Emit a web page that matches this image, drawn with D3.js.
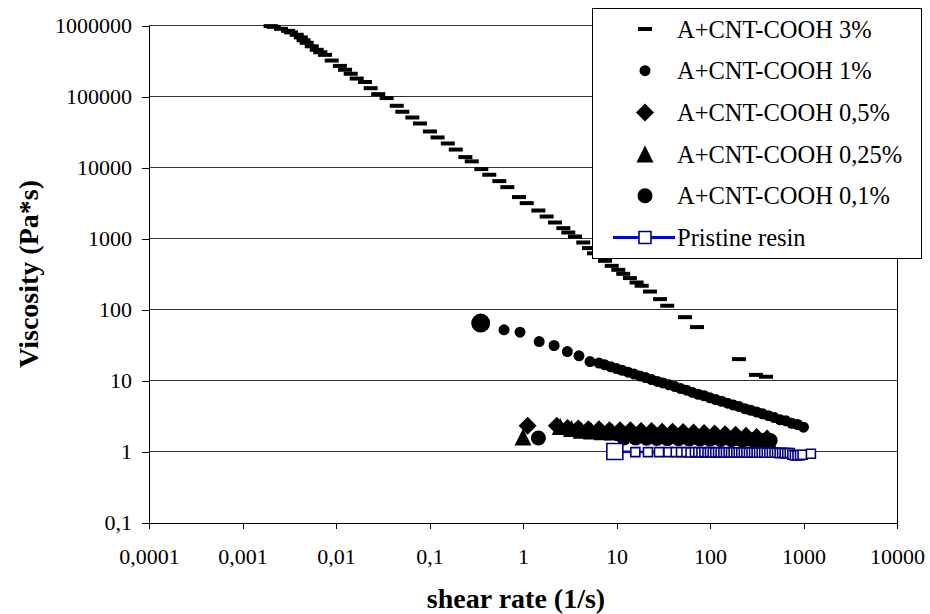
<!DOCTYPE html>
<html><head><meta charset="utf-8">
<script src="https://cdn.jsdelivr.net/npm/d3@7"></script>
<style>body{margin:0;background:#fff}svg{display:block}</style>
</head><body>
<svg id="c" width="930" height="614"></svg>
<script>
// ---------- data ----------
const xTickValues = [1e-4, 1e-3, 1e-2, 1e-1, 1, 10, 100, 1000, 10000];
const xTickLabels = ["0,0001", "0,001", "0,01", "0,1", "1", "10", "100", "1000", "10000"];
const yTickValues = [0.1, 1, 10, 100, 1000, 10000, 100000, 1000000];
const yTickLabels = ["0,1", "1", "10", "100", "1000", "10000", "100000", "1000000"];

const seriesNames = ["A+CNT-COOH 3%", "A+CNT-COOH 1%", "A+CNT-COOH 0,5%", "A+CNT-COOH 0,25%", "A+CNT-COOH 0,1%", "Pristine resin"];

const cnt3X = [0.002, 0.00217, 0.00258, 0.00307, 0.0033, 0.0038, 0.0042, 0.0045, 0.00486, 0.0055, 0.00622, 0.0068, 0.00762, 0.009, 0.011, 0.0125, 0.01436, 0.01665, 0.0204, 0.0235, 0.0283, 0.0348, 0.0446, 0.0512, 0.0655, 0.079, 0.101, 0.122, 0.157, 0.191, 0.242, 0.283, 0.358, 0.436, 0.558, 0.68, 0.906, 1.096, 1.46, 1.79, 2.2, 2.7, 3.05, 3.6, 4.41, 5.08, 5.74, 6.5, 7.53, 8.89, 10.45, 11.8, 13.9, 16.4, 18.6, 22.8, 29.2, 34.9, 54, 72.6, 204, 310, 397];
const cnt3Y = [980000, 957000, 898000, 841000, 800000, 740000, 680000, 620000, 570000, 510000, 455000, 420000, 386000, 321000, 270000, 238000, 209000, 179000, 160000, 131000, 108000, 95000, 74000, 61000, 50600, 41700, 32200, 26500, 21800, 17900, 14000, 12200, 9500, 7900, 6430, 5290, 3830, 3150, 2480, 2040, 1680, 1400, 1215, 1067, 879, 733, 619, 552, 485, 412, 362, 318, 277, 240, 216, 179, 140, 113, 78, 56.5, 20, 12.0, 11.3];

const cnt1X = [0.627, 0.929, 1.49, 2.15, 2.98, 3.97, 5.21, 6.5, 7.5, 8.7, 10, 11.5, 13.3, 15.4, 17.8, 20.5, 23.7, 27.4, 31.6, 36.5, 42.2, 48.7, 56.2, 64.9, 75, 86.6, 100, 115, 133, 154, 178, 205, 237, 274, 316, 365, 422, 487, 562, 649, 750, 866, 1000];
const cnt1Y = [51.8, 48, 35.4, 31.1, 25.6, 22.3, 18.5, 17.6, 16.6, 15.6, 14.7, 13.9, 13.1, 12.3, 11.6, 11.0, 10.3, 9.7, 9.2, 8.7, 8.2, 7.7, 7.3, 6.8, 6.4, 6.1, 5.7, 5.4, 5.1, 4.8, 4.5, 4.3, 4.0, 3.8, 3.6, 3.4, 3.2, 3.0, 2.8, 2.7, 2.5, 2.4, 2.2];

const cnt05X = [1.12, 2.3, 3.0, 3.9, 5.0, 6.5, 8.4, 10.9, 14.1, 18.3, 23.7, 30.7, 39.8, 51.5, 66.7, 86.4, 112, 145, 188, 243, 315, 408];
const cnt05Y = [2.3, 2.3, 2.15, 2.1, 2.05, 2.05, 2.0, 2.0, 2.0, 1.95, 1.95, 1.9, 1.9, 1.88, 1.85, 1.82, 1.8, 1.75, 1.72, 1.66, 1.6, 1.52];

const cnt025X = [1.0, 2.5, 3.3, 4.2, 5.4, 7.0, 9.0, 11.7, 15.1, 19.5, 25.2, 32.6, 42.1, 54.4, 70.4, 91, 118, 152, 197, 254, 329, 425];
const cnt025Y = [1.6, 2.25, 2.1, 2.0, 1.95, 1.9, 1.88, 1.85, 1.85, 1.82, 1.8, 1.8, 1.78, 1.76, 1.74, 1.7, 1.68, 1.64, 1.6, 1.55, 1.5, 1.42];

const cnt01X = [0.353, 1.46, 12, 16, 21, 27, 35, 46, 60, 78, 100, 130, 170, 220, 290, 380, 440];
const cnt01Y = [64.3, 1.55, 1.55, 1.55, 1.54, 1.53, 1.52, 1.52, 1.5, 1.5, 1.49, 1.48, 1.47, 1.46, 1.45, 1.44, 1.43];

const pristineX = [9.6, 15.9, 21.7, 28.5, 36, 43, 49, 56, 62, 69, 75, 81, 87, 94, 100, 107, 114, 122, 130, 139, 148, 158, 168, 179, 191, 203, 216, 230, 245, 261, 278, 296, 315, 335, 357, 380, 405, 431, 459, 489, 521, 555, 591, 629, 670, 713, 760, 809, 862, 918, 978, 1200];
const pristineY = [1.0, 0.98, 0.98, 0.98, 0.98, 0.98, 0.98, 0.98, 0.97, 0.98, 0.98, 0.97, 0.98, 0.97, 0.98, 0.97, 0.97, 0.98, 0.97, 0.97, 0.97, 0.98, 0.97, 0.97, 0.97, 0.97, 0.97, 0.97, 0.97, 0.96, 0.97, 0.97, 0.96, 0.97, 0.96, 0.97, 0.96, 0.96, 0.96, 0.96, 0.96, 0.95, 0.96, 0.95, 0.95, 0.95, 0.9, 0.88, 0.88, 0.89, 0.9, 0.93];

// ---------- chart ----------
const FONT = "'Liberation Serif','Times New Roman',Times,serif";
const svg = d3.select("#c");
const L = 149, R = 897, T = 25.5, B = 522.5;
const x = d3.scaleLog().domain([1e-4, 1e4]).range([L, R]);
const y = d3.scaleLog().domain([0.1, 1e6]).range([B, T]);

// gridlines
svg.append("g").selectAll("line").data(yTickValues.slice(1)).join("line")
  .attr("x1", L).attr("x2", R).attr("y1", d => y(d)).attr("y2", d => y(d))
  .attr("stroke", "#333").attr("stroke-width", 1).attr("shape-rendering", "crispEdges");
// right border
svg.append("line").attr("x1", R).attr("x2", R).attr("y1", T).attr("y2", B)
  .attr("stroke", "#000").attr("shape-rendering", "crispEdges");

// axes
const yAxis = d3.axisLeft(y).tickValues(yTickValues).tickFormat((d, i) => yTickLabels[i]).tickSize(7).tickSizeOuter(0).tickPadding(10);
const gy = svg.append("g").attr("transform", `translate(${L},0)`).call(yAxis);
const xAxis = d3.axisBottom(x).tickValues(xTickValues).tickFormat((d, i) => xTickLabels[i]).tickSize(6).tickSizeOuter(0).tickPadding(20);
const gx = svg.append("g").attr("transform", `translate(0,${B})`).call(xAxis);
[gx, gy].forEach(g => {
  g.attr("font-family", FONT).attr("font-size", 22);
  g.selectAll("text").attr("fill", "#000");
  g.selectAll("line").attr("stroke", "#000").attr("shape-rendering", "crispEdges");
  g.select(".domain").attr("stroke", "#000").attr("shape-rendering", "crispEdges");
});

// marker shapes
function shape(type, s) {
  const h = s / 2;
  switch (type) {
    case "dash": return `M${-7},-2h14v4h-14Z`;
    case "circle": return `M${h},0A${h},${h} 0 1,1 ${-h},0A${h},${h} 0 1,1 ${h},0Z`;
    case "diamond": return `M0,${-h}L${h},0L0,${h}L${-h},0Z`;
    case "triangle": return `M0,${-h}L${h},${h}L${-h},${h}Z`;
    case "square": return `M${-h},${-h}h${s}v${s}h${-s}Z`;
  }
}

const blackSeries = [
  {xs: cnt3X, ys: cnt3Y, type: "dash", size: 14},
  {xs: cnt1X, ys: cnt1Y, type: "circle", size: 11},
  {xs: cnt05X, ys: cnt05Y, type: "diamond", size: 18},
  {xs: cnt025X, ys: cnt025Y, type: "triangle", size: 17},
  {xs: cnt01X, ys: cnt01Y, type: "circle", size: 15, firstSize: 19}
];
blackSeries.forEach(s => {
  svg.append("g").selectAll("path").data(s.xs.map((v, i) => [v, s.ys[i], i])).join("path")
    .attr("d", d => shape(s.type, (d[2] === 0 && s.firstSize) ? s.firstSize : s.size))
    .attr("transform", d => `translate(${x(d[0])},${y(d[1])})`)
    .attr("fill", "#000");
});

// pristine resin
const pData = pristineX.map((v, i) => [v, pristineY[i], i]);
svg.append("path").datum(pData)
  .attr("d", d3.line().x(d => x(d[0])).y(d => y(d[1])))
  .attr("fill", "none").attr("stroke", "#0000ff").attr("stroke-width", 2.5);
svg.append("g").selectAll("path").data(pData).join("path")
  .attr("d", d => shape("square", d[2] === 0 ? 16 : 9))
  .attr("transform", d => `translate(${x(d[0])},${y(d[1])})`)
  .attr("fill", "#fff").attr("stroke", "#000080").attr("stroke-width", 1.6);

// legend
const lg = svg.append("g");
lg.append("rect").attr("x", 592.5).attr("y", 8.5).attr("width", 329).attr("height", 250)
  .attr("fill", "#fff").attr("stroke", "#000").attr("stroke-width", 1);
const legTypes = [["dash", 14], ["circle", 11], ["diamond", 18], ["triangle", 17], ["circle", 15]];
seriesNames.forEach((name, i) => {
  const cy = 29 + i * 41.7;
  if (i < 5) {
    lg.append("path").attr("d", shape(legTypes[i][0], legTypes[i][1]))
      .attr("transform", `translate(645,${cy})`).attr("fill", "#000");
  } else {
    lg.append("line").attr("x1", 613).attr("x2", 675).attr("y1", cy).attr("y2", cy)
      .attr("stroke", "#0000ff").attr("stroke-width", 3);
    lg.append("path").attr("d", shape("square", 12)).attr("transform", `translate(645,${cy})`)
      .attr("fill", "#fff").attr("stroke", "#000080").attr("stroke-width", 1.6);
  }
  lg.append("text").attr("x", 677).attr("y", cy).attr("dy", "0.35em")
    .attr("font-family", FONT).attr("font-size", 24.5).attr("fill", "#000").text(name);
});

// axis titles
svg.append("text").attr("transform", "translate(28,274) rotate(-90)")
  .attr("text-anchor", "middle").attr("dy", "0.35em")
  .attr("font-family", FONT).attr("font-size", 28).attr("font-weight", "bold").text("Viscosity (Pa*s)");
svg.append("text").attr("x", 516).attr("y", 598).attr("dy", "0.35em")
  .attr("text-anchor", "middle")
  .attr("font-family", FONT).attr("font-size", 28).attr("font-weight", "bold").text("shear rate (1/s)");
</script>
</body></html>
